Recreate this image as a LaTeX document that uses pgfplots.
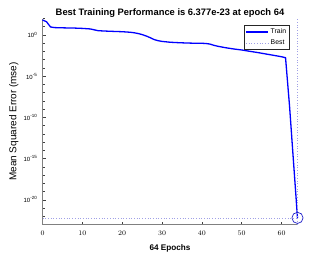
\documentclass[border=0pt]{standalone}
\usepackage{fontspec}
\setmainfont{Liberation Sans}
\usepackage{pgfplots}
\pgfplotsset{compat=1.18}
\definecolor{trainblue}{RGB}{0,0,255}
\definecolor{bestc}{RGB}{160,160,230}
\definecolor{circc}{RGB}{30,30,200}
\definecolor{axgray}{RGB}{128,128,128}
\newcommand{\tl}[1]{10\raisebox{2.7bp}{\fontsize{4.5}{5}\selectfont #1}}
\begin{document}
\begin{tikzpicture}[x=1bp,y=1bp]
\useasboundingbox (0,0) rectangle (329,253);
\begin{axis}[
  at={(42.5bp,28.5bp)}, anchor=south west,
  scale only axis, width=255bp, height=206bp,
  ymode=log, xmin=0, xmax=64, ymin=1e-23, ymax=1e2,
  clip=false,
  axis lines*=left,
  axis line style={axgray, line width=1.5bp},
  xtick={0,10,...,60},
  ytick={1e-20,1e-15,1e-10,1e-5,1e0},
  yticklabels={\tl{-20},\tl{-15},\tl{-10},\tl{-5},\tl{0}},
  minor ytick={1e-23,1e-22,1e-21,1e-19,1e-18,1e-17,1e-16,1e-14,1e-13,1e-12,1e-11,1e-9,1e-8,1e-7,1e-6,1e-4,1e-3,1e-2,1e-1,1e1,1e2},
  tick align=inside,
  major tick length=3bp, minor tick length=2bp,
  tick style={black!75, line width=0.5bp},
  xticklabel style={font=\fontsize{6.6}{7}\selectfont, anchor=base, yshift=-11.4bp, inner sep=0pt},
  yticklabel style={font=\fontsize{6}{7}\selectfont, anchor=east, xshift=-5.5bp, inner sep=0pt},
  title={Best Training Performance is 6.377e-23 at epoch 64},
  title style={font=\bfseries\fontsize{9.4}{11}\selectfont, at={(axis description cs:0.5,1)}, anchor=base, yshift=-3bp, inner sep=0pt},
  xlabel={64 Epochs},
  xlabel style={font=\bfseries\fontsize{8.2}{10}\selectfont, at={(axis description cs:0.5,0)}, anchor=base, yshift=-25.5bp, inner sep=0pt},
  ylabel={Mean Squared Error (mse)},
  ylabel style={font=\fontsize{10}{12}\selectfont, at={(axis description cs:-0.102,0.5)}, anchor=base, inner sep=0pt},
  legend style={at={(axis description cs:1,1)}, anchor=north east, xshift=-7.5bp, yshift=-6.5bp, draw=black!85, line width=0.8bp, font=\fontsize{6.9}{8}\selectfont, inner sep=1.5bp, row sep=0.5bp, fill=white},
  legend cell align=left,
  legend image code/.code={\draw[#1] (0bp,0bp) -- (22bp,0bp);},
]
\addplot[trainblue, line width=1.3bp] coordinates {
(0,66.1) (1,40.7) (2,9.5) (3,7.9) (4,7.6) (6,7.2) (8,6.9) (10,6.3) (12,5.4) (13,4.2) (14,3.3)
(16,2.95) (18,2.7) (20,2.5) (22,2.14) (23,1.86) (24,1.5) (25,1.12) (26,0.76) (27,0.48) (28,0.28)
(29,0.204) (30,0.166) (32,0.132) (34,0.117) (36,0.107) (38,0.1) (40,0.098) (41,0.093) (42,0.079)
(43,0.056) (44,0.0427) (46,0.0282) (48,0.020) (50,0.0151) (52,0.0105) (54,0.0074) (56,0.0050)
(58,0.0034) (60,0.00229) (61,0.00174) (62,2.5e-9) (63,4e-16) (64,6.377e-23)
};
\addlegendentry{Train}
\addplot[bestc, dotted, line width=0.7bp] coordinates {(0,6.377e-23) (64,6.377e-23)};
\addlegendentry{Best}
\addplot[bestc, dotted, line width=0.7bp, forget plot] coordinates {(64,1e-23) (64,1e2)};
\addplot[circc, only marks, mark=o, mark size=5.6bp, line width=0.7bp, forget plot] coordinates {(64,6.377e-23)};
\end{axis}
\end{tikzpicture}
\end{document}
